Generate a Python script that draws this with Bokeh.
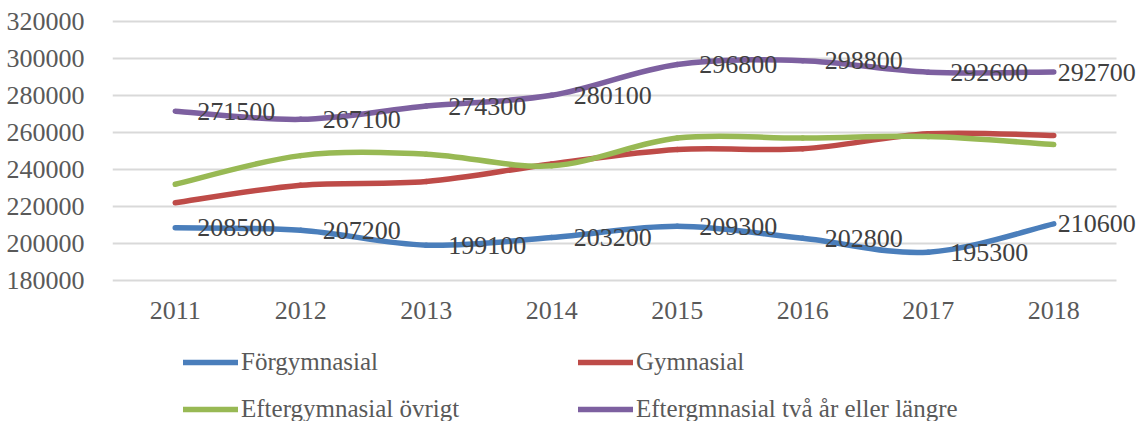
from bokeh.plotting import figure
from bokeh.models import (Range1d, FixedTicker, ColumnDataSource, LabelSet,
                          Legend, LegendItem, BasicTickFormatter, LinearAxis)
from bokeh.core.properties import value
from bokeh.embed import file_html
from bokeh.resources import INLINE

years = [2011, 2012, 2013, 2014, 2015, 2016, 2017, 2018]
year_labels = ["2011", "2012", "2013", "2014", "2015", "2016", "2017", "2018"]
y_ticks = [180000, 200000, 220000, 240000, 260000, 280000, 300000, 320000]

forgymnasial = [208500, 207200, 199100, 203200, 209300, 202800, 195300, 210600]
gymnasial = [222000, 231500, 233500, 243000, 250800, 251200, 259300, 258400]
efter_ovrigt = [232000, 247500, 248300, 242000, 257000, 257000, 257800, 253500]
efter_tva = [271500, 267100, 274300, 280100, 296800, 298800, 292600, 292700]

names = ["Förgymnasial", "Gymnasial", "Eftergymnasial övrigt",
         "Eftergmnasial två år eller längre"]
colors = ["#4A7EBB", "#BE4B48", "#98B954", "#7D60A0"]
series = [forgymnasial, gymnasial, efter_ovrigt, efter_tva]
labelled = [True, False, False, True]

FONT = "Liberation Serif"

W, H = 1140, 421
LEFT = 112            # plot area left edge (px)
PX_PER_YEAR = 125.5   # category width (px)
Y_TOP_PX, Y_BOT_PX = 21, 280   # pixel rows of the 320000 / 180000 grid lines
y_lo, y_hi = y_ticks[0], y_ticks[-1]
px_per_unit = (Y_BOT_PX - Y_TOP_PX) / (y_hi - y_lo)

x_start = years[0] - 0.5
x_end = x_start + (W - LEFT) / PX_PER_YEAR
grid_end = years[-1] + 0.5
y_start = y_lo - (H - Y_BOT_PX) / px_per_unit
y_end = y_hi + Y_TOP_PX / px_per_unit

p = figure(width=W, height=H, output_backend="svg", toolbar_location=None,
           x_range=Range1d(x_start, x_end), y_range=Range1d(y_start, y_end),
           x_axis_location=None,
           min_border_left=LEFT, min_border_right=0, min_border_top=0,
           min_border_bottom=0)
p.outline_line_color = None
p.background_fill_color = "white"
p.border_fill_color = "white"
p.xgrid.visible = False
p.ygrid.visible = False

# horizontal grid lines limited to the category span
p.segment(x0=[x_start] * len(y_ticks), x1=[grid_end] * len(y_ticks),
          y0=y_ticks, y1=y_ticks, line_color="#d9d9d9", line_width=1.8)

xaxis = LinearAxis(fixed_location=y_lo, ticker=FixedTicker(ticks=years),
                   major_label_overrides={y: l for y, l in zip(years, year_labels)})
p.add_layout(xaxis, "below")
p.yaxis.ticker = FixedTicker(ticks=y_ticks)
p.yaxis.formatter = BasicTickFormatter(use_scientific=False)
for ax in (xaxis, p.yaxis[0]):
    ax.axis_line_color = None
    ax.major_tick_line_color = None
    ax.minor_tick_line_color = None
    ax.major_label_text_font = FONT
    ax.major_label_text_font_size = "26px"
    ax.major_label_text_color = "#595959"
xaxis.major_label_standoff = 15
p.yaxis.major_label_standoff = 22


def smooth_segments(xs, ys):
    n = len(xs)
    d = dict(x0=[], y0=[], x1=[], y1=[], cx0=[], cy0=[], cx1=[], cy1=[])
    for i in range(n - 1):
        a = i - 1 if i > 0 else i
        b = i + 2 if i + 2 < n else i + 1
        d["x0"].append(xs[i]); d["y0"].append(ys[i])
        d["x1"].append(xs[i + 1]); d["y1"].append(ys[i + 1])
        d["cx0"].append(xs[i] + (xs[i + 1] - xs[a]) / 6)
        d["cy0"].append(ys[i] + (ys[i + 1] - ys[a]) / 6)
        d["cx1"].append(xs[i + 1] - (xs[b] - xs[i]) / 6)
        d["cy1"].append(ys[i + 1] - (ys[b] - ys[i]) / 6)
    return ColumnDataSource(d)


renderers = []
for vals, col in zip(series, colors):
    src = smooth_segments(years, vals)
    r = p.bezier(x0="x0", y0="y0", x1="x1", y1="y1", cx0="cx0", cy0="cy0",
                 cx1="cx1", cy1="cy1", source=src, line_color=col,
                 line_width=5.5, line_cap="round")
    renderers.append(r)

for vals, lab in zip(series, labelled):
    if not lab:
        continue
    offs = [22] * (len(years) - 1) + [4]
    src = ColumnDataSource(dict(x=years, y=vals, t=[str(v) for v in vals], xo=offs))
    ls = LabelSet(x="x", y="y", text="t", x_offset="xo", source=src,
                  text_font=value(FONT), text_font_size=value("26px"),
                  text_color=value("#404040"), text_baseline=value("middle"),
                  text_align=value("left"))
    p.add_layout(ls)


def make_legend(idx, loc):
    items = [LegendItem(label=names[i], renderers=[renderers[i]]) for i in idx]
    return Legend(items=items, orientation="horizontal", location=loc,
                  padding=0, margin=0, spacing=0, glyph_width=55, glyph_height=30,
                  label_height=30, label_width=337, label_standoff=3,
                  label_text_font=FONT, label_text_font_size="25px",
                  label_text_color="#595959", border_line_color=None,
                  background_fill_alpha=0)


# (x from plot-area left, y of legend bottom from plot-area bottom)
p.add_layout(make_legend([0, 1], (71, 44)))
p.add_layout(make_legend([2, 3], (71, -3)))

open("out.html", "w").write(file_html(p, INLINE))
